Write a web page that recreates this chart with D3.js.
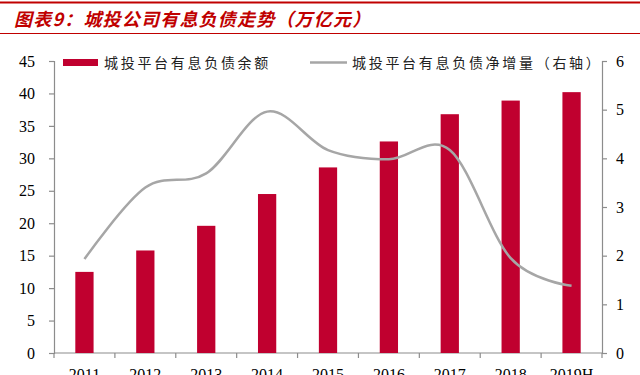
<!DOCTYPE html>
<html>
<head>
<meta charset="utf-8">
<script src="https://cdn.jsdelivr.net/npm/d3@7"></script>
<style>
  body { margin: 0; background: #fff; }
  svg { display: block; }
</style>
</head>
<body>
<script>
// Chart data
var years = ["2011", "2012", "2013", "2014", "2015", "2016", "2017", "2018", "2019H"];
var debtBalance = [12.5, 15.8, 19.6, 24.5, 28.6, 32.6, 36.8, 38.9, 40.2];
var netIncrease = [1.93, 3.40, 3.69, 4.96, 4.17, 3.98, 4.17, 1.95, 1.38];
var leftTicks = [0, 5, 10, 15, 20, 25, 30, 35, 40, 45];
var rightTicks = [0, 1, 2, 3, 4, 5, 6];

var titleText = "图表9：城投公司有息负债走势（万亿元）";
var barLabel = "城投平台有息负债余额";
var lineLabel = "城投平台有息负债净增量（右轴）";

var svgWidth = 640;
var svgHeight = 375;

var plot = { left: 54, right: 602, top: 61, bottom: 353 };

var svg = d3.select("body")
  .append("svg")
  .attr("width", svgWidth)
  .attr("height", svgHeight);

// title with red rules
var red = "#c0002f";
svg.append("line")
  .attr("x1", 0).attr("x2", svgWidth)
  .attr("y1", 2.5).attr("y2", 2.5)
  .attr("stroke", "#c00000").attr("stroke-width", 2);
svg.append("line")
  .attr("x1", 0).attr("x2", svgWidth)
  .attr("y1", 33.5).attr("y2", 33.5)
  .attr("stroke", "#c00000").attr("stroke-width", 1);
svg.append("text")
  .attr("x", 14)
  .attr("y", 26)
  .attr("font-family", "'Noto Sans CJK SC', sans-serif")
  .attr("font-size", 18)
  .attr("font-style", "italic")
  .attr("font-weight", "bold")
  .attr("letter-spacing", 1.2)
  .attr("fill", "#c00000")
  .text(titleText);

// scales
var xScale = d3.scaleBand()
  .domain(years)
  .range([plot.left, plot.right])
  .paddingInner(0.7)
  .paddingOuter(0.35);

var yLeft = d3.scaleLinear()
  .domain([0, 45])
  .range([plot.bottom, plot.top]);

var yRight = d3.scaleLinear()
  .domain([0, 6])
  .range([plot.bottom, plot.top]);

var axisColor = "#8c8c8c";
var tickFont = "'Liberation Serif', 'Times New Roman', serif";

// left axis
var leftAxis = d3.axisLeft(yLeft).tickValues(leftTicks).tickSize(5).tickPadding(14);
var gLeft = svg.append("g")
  .attr("transform", `translate(${plot.left},0)`)
  .call(leftAxis);

// right axis
var rightAxis = d3.axisRight(yRight).tickValues(rightTicks).tickFormat(d3.format("d")).tickSize(5).tickPadding(9);
var gRight = svg.append("g")
  .attr("transform", `translate(${plot.right},0)`)
  .call(rightAxis);

[gLeft, gRight].forEach(function(g) {
  g.select(".domain").attr("stroke", axisColor).attr("stroke-width", 1.2);
  g.selectAll(".tick line").attr("stroke", axisColor).attr("stroke-width", 1.2);
  g.selectAll(".tick text")
    .attr("font-family", tickFont)
    .attr("font-size", 16)
    .attr("fill", "#000");
});

// bottom axis: ticks at band boundaries
var gBottom = svg.append("g");
gBottom.append("line")
  .attr("x1", plot.left).attr("x2", plot.right)
  .attr("y1", plot.bottom).attr("y2", plot.bottom)
  .attr("stroke", axisColor).attr("stroke-width", 1.2);
var step = xScale.step();
var boundaries = years.map(function(d) { return xScale(d) + xScale.bandwidth() / 2 - step / 2; });
boundaries.push(plot.right);
gBottom.selectAll(".xtick")
  .data(boundaries)
  .enter()
  .append("line")
  .attr("class", "xtick")
  .attr("x1", d => d).attr("x2", d => d)
  .attr("y1", plot.bottom).attr("y2", plot.bottom + 5)
  .attr("stroke", axisColor).attr("stroke-width", 1.2);
gBottom.selectAll(".xlabel")
  .data(years)
  .enter()
  .append("text")
  .attr("class", "xlabel")
  .attr("x", d => xScale(d) + xScale.bandwidth() / 2)
  .attr("y", 380)
  .attr("text-anchor", "middle")
  .attr("font-family", tickFont)
  .attr("font-size", 16)
  .attr("fill", "#000")
  .text(d => d);

// bars
svg.selectAll(".bar")
  .data(debtBalance)
  .enter()
  .append("rect")
  .attr("class", "bar")
  .attr("x", (d, i) => xScale(years[i]))
  .attr("y", d => yLeft(d))
  .attr("width", xScale.bandwidth())
  .attr("height", d => plot.bottom - yLeft(d))
  .attr("fill", red);

// smoothed line on right axis
var line = d3.line()
  .x((d, i) => xScale(years[i]) + xScale.bandwidth() / 2)
  .y(d => yRight(d))
  .curve(d3.curveCardinal.tension(0));

svg.append("path")
  .datum(netIncrease)
  .attr("d", line)
  .attr("fill", "none")
  .attr("stroke", "#a6a6a6")
  .attr("stroke-width", 2.5);

// legend
var legendFont = "'Noto Sans CJK SC', sans-serif";
svg.append("rect")
  .attr("x", 63).attr("y", 59)
  .attr("width", 35).attr("height", 7)
  .attr("fill", red);
svg.append("text")
  .attr("x", 104).attr("y", 68)
  .attr("font-family", legendFont)
  .attr("font-size", 14)
  .attr("letter-spacing", 2.7)
  .attr("fill", "#222")
  .text(barLabel);
svg.append("line")
  .attr("x1", 310).attr("x2", 347)
  .attr("y1", 62.5).attr("y2", 62.5)
  .attr("stroke", "#a6a6a6").attr("stroke-width", 2.5);
svg.append("text")
  .attr("x", 352).attr("y", 68)
  .attr("font-family", legendFont)
  .attr("font-size", 14)
  .attr("letter-spacing", 2.7)
  .attr("fill", "#222")
  .text(lineLabel);
</script>
</body>
</html>
